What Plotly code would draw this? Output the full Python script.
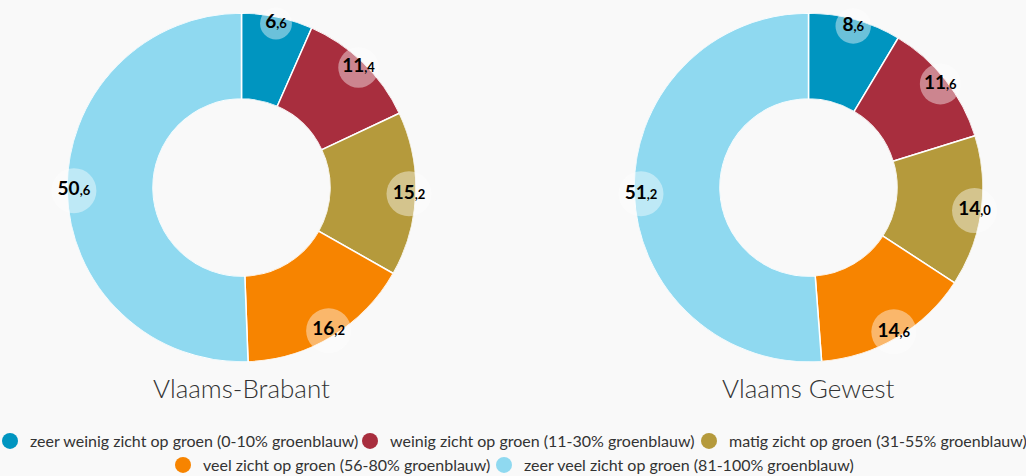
import plotly.graph_objects as go

# categories + values per region (percent of residents)
categories = [
    "zeer weinig zicht op groen (0-10% groenblauw)",
    "weinig zicht op groen (11-30% groenblauw)",
    "matig zicht op groen (31-55% groenblauw)",
    "veel zicht op groen (56-80% groenblauw)",
    "zeer veel zicht op groen (81-100% groenblauw)",
]
colors = ["#0095c0", "#a82e3e", "#b59a3c", "#f78400", "#8fd9f0"]

regions = ["Vlaams-Brabant", "Vlaams Gewest"]
vals_brabant = [6.6, 11.4, 15.2, 16.2, 50.6]
vals_gewest = [8.6, 11.6, 14.0, 14.6, 51.2]

W, H = 1026, 476
BG = "#f9f9f9"
FONT = "Lato"


def label(v):
    whole, dec = f"{v:.1f}".split(".")
    return f"<b>{whole}<span style='font-size:13px'>,{dec}</span></b>"


def wedges(vals):
    # mid angle (deg, clockwise from top) and angular width of each slice
    total = sum(vals)
    mids, widths, cum = [], [], 0
    for v in vals:
        w = v / total * 360
        mids.append(cum + w / 2)
        widths.append(w)
        cum += w
    return mids, widths


fig = go.Figure()

for i, (name, vals) in enumerate([(regions[0], vals_brabant), (regions[1], vals_gewest)]):
    sub = "polar" if i == 0 else "polar2"
    mids, widths = wedges(vals)
    fig.add_trace(go.Barpolar(
        r=[1] * len(vals), theta=mids, width=widths,
        marker=dict(color=colors, line=dict(color="white", width=1.5)),
        subplot=sub, showlegend=False, hoverinfo="skip",
    ))
    fig.add_trace(go.Scatterpolar(
        r=[0.92] * len(vals), theta=mids, mode="markers+text",
        text=[label(v) for v in vals], textposition="middle center",
        textfont=dict(family=FONT, size=19, color="#000"),
        marker=dict(size=[min(45, 20 + 1.8 * v) for v in vals],
                    color="rgba(255,255,255,0.6)", line=dict(width=0)),
        cliponaxis=False, subplot=sub, showlegend=False, hoverinfo="skip",
    ))

# one legend per entry so the two rows can be laid out like the original
legend_pos = [(15, 441), (375, 441), (714, 441), (188, 465), (509, 465)]
legends = {}
for j, (cat, col) in enumerate(zip(categories, colors)):
    key = "legend" if j == 0 else f"legend{j + 1}"
    fig.add_trace(go.Scatterpolar(
        r=[None], theta=[None], mode="markers", name=cat,
        marker=dict(color=col, size=16), subplot="polar", legend=key,
    ))
    px_, py_ = legend_pos[j]
    legends[key] = dict(
        x=(px_ - 25) / W, xanchor="left", y=1 - py_ / H, yanchor="middle",
        orientation="h", font=dict(family=FONT, size=16, color="#333"),
        bgcolor="rgba(0,0,0,0)", itemclick=False, itemdoubleclick=False,
    )

polar_common = dict(
    hole=0.507, bgcolor="rgba(0,0,0,0)",
    radialaxis=dict(range=[0, 1], visible=False),
    angularaxis=dict(rotation=90, direction="clockwise", visible=False),
)
ydom = [1 - 362 / H, 1 - 13 / H]

fig.update_layout(
    width=W, height=H,
    margin=dict(l=0, r=0, t=0, b=0, autoexpand=False),
    paper_bgcolor=BG, plot_bgcolor=BG,
    polar=dict(domain=dict(x=[67 / W, 416 / W], y=ydom), **polar_common),
    polar2=dict(domain=dict(x=[634 / W, 983 / W], y=ydom), **polar_common),
    annotations=[
        dict(text=regions[0], x=241.5 / W, y=1 - 388 / H, xref="paper", yref="paper",
             xanchor="center", yanchor="middle", showarrow=False,
             font=dict(family=FONT, size=26, color="#333", weight=300)),
        dict(text=regions[1], x=808.5 / W, y=1 - 388 / H, xref="paper", yref="paper",
             xanchor="center", yanchor="middle", showarrow=False,
             font=dict(family=FONT, size=26, color="#333", weight=300)),
    ],
    **legends,
)

fig.write_html("out.html", config={"displayModeBar": False},
               post_script="document.body.style.margin='0px';")
